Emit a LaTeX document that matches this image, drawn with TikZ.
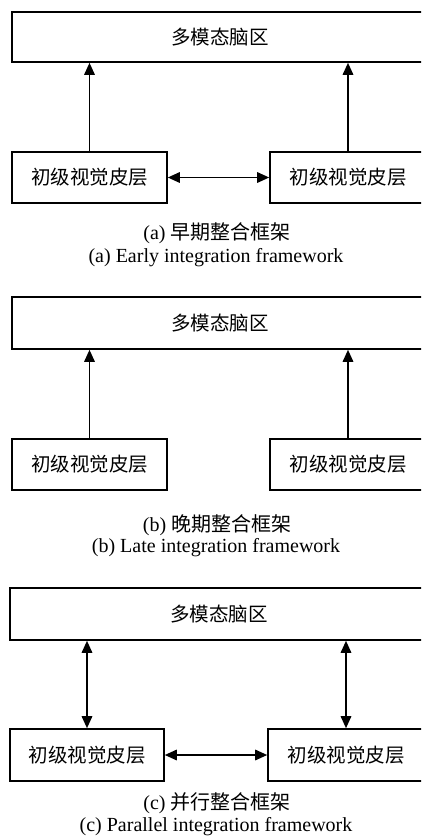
\documentclass[tikz,border=0pt]{standalone}
\usepackage{fontspec}
\setmainfont{Liberation Serif}
\newfontfamily\cjk{Noto Sans CJK SC}
\usetikzlibrary{arrows.meta}
\tikzset{
  box/.style={draw, line width=1.6pt, rectangle, inner sep=0pt, font=\cjk\fontsize{19.5}{22}\selectfont},
  arr/.style={line width=1.6pt, -{Triangle[length=12pt,width=10.5pt]}},
  darr/.style={line width=1.6pt, {Triangle[length=12pt,width=10.5pt]}-{Triangle[length=12pt,width=10.5pt]}},
  captxt/.style={inner sep=0pt, font=\fontsize{20}{24}\selectfont}
}
\begin{document}
\begin{tikzpicture}[x=1pt,y=-1pt]
\useasboundingbox (0,0) rectangle (421,838);
\clip (0,0) rectangle (421,838);
\fill[white] (0,0) rectangle (421,838);
% (a)
\node[box, minimum width=416pt, minimum height=50pt] (atop) at (220,37) {多模态脑区};
\node[box, minimum width=155pt, minimum height=51pt] (al) at (89.5,177.5) {初级视觉皮层};
\node[box, minimum width=156pt, minimum height=51pt] (ar) at (348,177.5) {初级视觉皮层};
\draw[arr] (al.north) -- (al.north |- atop.south);
\draw[arr] (ar.north) -- (ar.north |- atop.south);
\draw[darr] (al.east) -- (ar.west);
\node[captxt] (acap1) at (217,233) {(a) {\cjk 早期整合框架}};
\node[captxt] (acap2) at (216,258) {(a) Early integration framework};
% (b)
\node[box, minimum width=416pt, minimum height=52pt] (btop) at (220,323) {多模态脑区};
\node[box, minimum width=155pt, minimum height=51pt] (bl) at (89.5,464.5) {初级视觉皮层};
\node[box, minimum width=156pt, minimum height=51pt] (br) at (348,464.5) {初级视觉皮层};
\draw[arr] (bl.north) -- (bl.north |- btop.south);
\draw[arr] (br.north) -- (br.north |- btop.south);
\node[captxt] (bcap1) at (217,525) {(b) {\cjk 晚期整合框架}};
\node[captxt] (bcap2) at (216,548) {(b) Late integration framework};
% (c)
\node[box, minimum width=418pt, minimum height=52pt] (ctop) at (219,614) {多模态脑区};
\node[box, minimum width=154pt, minimum height=52pt] (cl) at (87,755) {初级视觉皮层};
\node[box, minimum width=156pt, minimum height=52pt] (cr) at (346,755) {初级视觉皮层};
\draw[darr] (cl.north) -- (cl.north |- ctop.south);
\draw[darr] (cr.north) -- (cr.north |- ctop.south);
\draw[darr] (cl.east) -- (cr.west);
\node[captxt] (ccap1) at (217,803) {(c) {\cjk 并行整合框架}};
\node[captxt] (ccap2) at (216,827) {(c) Parallel integration framework};
\end{tikzpicture}
\end{document}
